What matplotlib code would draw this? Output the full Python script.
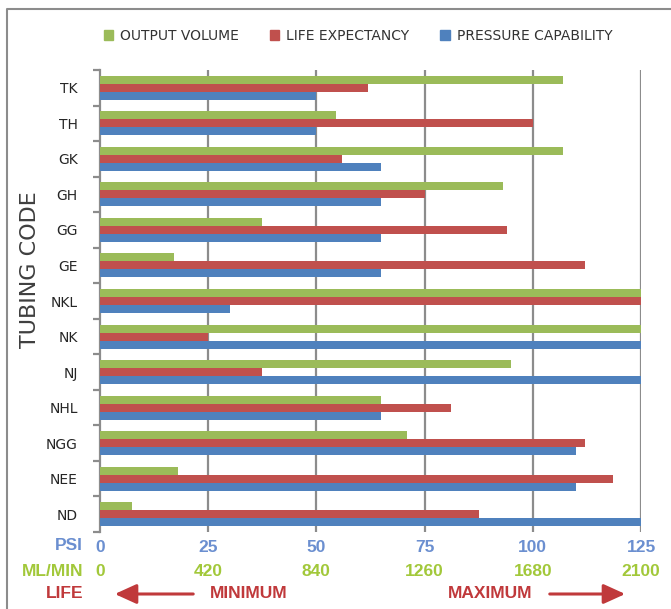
import matplotlib.pyplot as plt
from matplotlib.patches import Patch, FancyArrowPatch
from matplotlib.lines import Line2D
from matplotlib.transforms import blended_transform_factory
import numpy as np

# data
codes = ['TK', 'TH', 'GK', 'GH', 'GG', 'GE', 'NKL', 'NK', 'NJ', 'NHL', 'NGG', 'NEE', 'ND']
output_volume = [107, 54.5, 107, 93, 37.5, 17, 125, 125, 95, 65, 71, 18, 7.5]
life_expectancy = [62, 100, 56, 75, 94, 112, 125, 25, 37.5, 81, 112, 118.5, 87.5]
pressure = [50, 50, 65, 65, 65, 65, 30, 125, 125, 65, 110, 110, 125]
psi_ticks = [0, 25, 50, 75, 100, 125]
ml_labels = ['0', '420', '840', '1260', '1680', '2100']

GREEN = '#9bbb59'
RED = '#c0504d'
BLUE = '#4f81bd'

fig = plt.figure(figsize=(6.71, 6.09), dpi=100)
W, H = 671, 609
ax = fig.add_axes([100 / W, 1 - 532 / H, 541 / W, 462 / H])

y = np.arange(len(codes))
h = 0.225
ax.barh(y - h, output_volume, height=h, color=GREEN, zorder=3)
ax.barh(y, life_expectancy, height=h, color=RED, zorder=3)
ax.barh(y + h, pressure, height=h, color=BLUE, zorder=3)

ax.set_xlim(0, 125)
ax.set_ylim(len(codes) - 0.5, -0.5)

# vertical grid
for v in psi_ticks[1:]:
    ax.axvline(v, color='#8c8c8c', lw=1.6, zorder=1)

for s in ['top', 'right', 'bottom']:
    ax.spines[s].set_visible(False)
ax.spines['left'].set_color('#8c8c8c')
ax.spines['left'].set_linewidth(1.6)

ax.set_yticks(y)
ax.set_yticklabels(codes, fontsize=10, color='#262626')
ax.tick_params(axis='y', which='major', length=0, pad=16)
ax.set_yticks(np.arange(-0.5, len(codes)), minor=True)
ax.tick_params(axis='y', which='minor', length=5, width=1.6, color='#8c8c8c')

bold = dict(fontsize=12.5, family='Liberation Sans', fontweight='bold')

ax.set_xticks(psi_ticks)
ax.set_xticklabels([str(t) for t in psi_ticks], color='#6b8fd0', **bold)
ax.tick_params(axis='x', length=0, pad=6)

# second and third label rows
tr = blended_transform_factory(ax.transData, fig.transFigure)
for t, lab in zip(psi_ticks, ml_labels):
    ax.text(t, 1 - 571 / H, lab, transform=tr, ha='center', va='center',
            color='#a2c83a', **bold)

fig.text(83 / W, 1 - 545 / H, 'PSI', ha='right', va='center', color='#6b8fd0', **bold)
fig.text(83 / W, 1 - 571 / H, 'ML/MIN', ha='right', va='center', color='#a2c83a', **bold)
fig.text(83 / W, 1 - 594 / H, 'LIFE', ha='right', va='center', color='#c0393b', **bold)

fig.text(249 / W, 1 - 594 / H, 'MINIMUM', ha='center', va='center', color='#c0393b', **bold)
fig.text(490 / W, 1 - 594 / H, 'MAXIMUM', ha='center', va='center', color='#c0393b', **bold)
arrow_kw = dict(arrowstyle='-|>,head_length=1.1,head_width=0.5', color='#c0393b', lw=2.2,
                mutation_scale=12, transform=fig.transFigure)
fig.add_artist(FancyArrowPatch((196 / W, 1 - 594 / H), (112 / W, 1 - 594 / H), **arrow_kw))
fig.add_artist(FancyArrowPatch((547 / W, 1 - 594 / H), (628 / W, 1 - 594 / H), **arrow_kw))

fig.text(30 / W, 1 - 270 / H, 'TUBING CODE', rotation=90, ha='center', va='center',
         fontsize=16, color='#3f3f3f')

handles = [Patch(color=GREEN, label='OUTPUT VOLUME'),
           Patch(color=RED, label='LIFE EXPECTANCY'),
           Patch(color=BLUE, label='PRESSURE CAPABILITY')]
fig.legend(handles=handles, loc='center', bbox_to_anchor=(358 / W, 1 - 36 / H), ncol=3,
           frameon=False, fontsize=10, handlelength=0.7, handleheight=0.7,
           handletextpad=0.5, columnspacing=2.2, labelcolor='#333333')

# frame line on left and top
fig.add_artist(Line2D([7 / W, 7 / W, 1], [0, 1 - 9 / H, 1 - 9 / H],
                      transform=fig.transFigure, color='#8c8c8c', lw=1.5))

fig.savefig('out.png', dpi=100)
